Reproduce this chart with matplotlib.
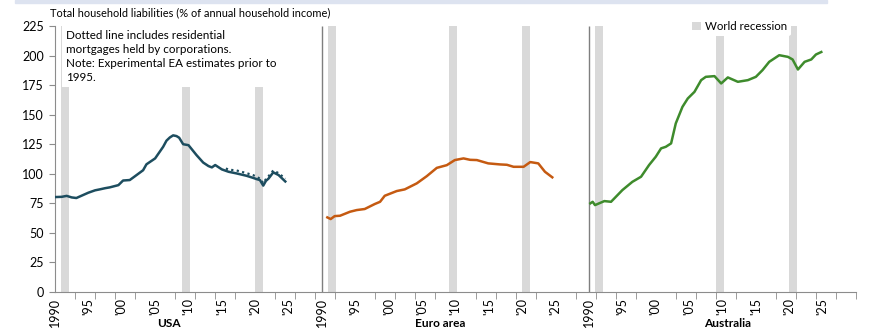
import matplotlib
matplotlib.use("Agg")
import matplotlib.pyplot as plt
import numpy as np

plt.rcParams['font.family'] = ['Lato', 'DejaVu Sans']

# household liabilities, % of annual household income
usa_years = [1990.0, 1991.0, 1991.75, 1992.5, 1993.2, 1994.0, 1995.0, 1996.0, 1996.7, 1997.5, 1998.2,
             1999.5, 2000.2, 2001.2, 2002.0, 2003.2, 2003.7, 2005.0, 2006.2, 2006.7, 2007.2, 2007.7,
             2008.2, 2008.6, 2009.2, 2010.0, 2011.2, 2012.2, 2013.0, 2013.5, 2014.0, 2015.0, 2016.0,
             2017.2, 2018.7, 2019.7, 2020.2, 2020.7, 2021.2, 2021.6, 2022.0, 2022.7, 2023.5, 2024.5]
usa_values = [80.3, 80.5, 81.3, 80.0, 79.5, 81.5, 84.0, 86.0, 86.8, 87.8, 88.5,
              90.4, 94.3, 94.7, 98.0, 103.0, 108.0, 113.0, 122.8, 128.0, 130.7, 132.5,
              131.9, 130.5, 125.0, 124.2, 115.8, 109.5, 106.5, 105.4, 107.4, 103.7, 101.7,
              100.3, 98.3, 96.5, 95.5, 94.7, 90.0, 94.0, 96.0, 101.2, 98.9, 93.5]
usa_wide_years = [2015.6, 2016.0, 2017.2, 2018.7, 2019.7, 2020.2, 2020.8, 2021.2, 2021.6,
                  2022.0, 2022.7, 2023.5, 2024.5]
usa_wide_values = [104.5, 103.5, 102.8, 100.5, 98.8, 97.5, 95.5, 92.0, 95.5,
                   98.0, 102.8, 100.5, 95.8]

euro_years = [1990.8, 1991.3, 1991.9, 1992.7, 1994.2, 1995.2, 1996.4, 1997.9, 1998.7, 1999.4,
              2001.2, 2002.4, 2004.2, 2005.7, 2007.2, 2008.7, 2009.9, 2011.2, 2012.2, 2013.2,
              2014.9, 2016.7, 2017.7, 2018.7, 2020.2, 2021.2, 2022.4, 2023.4, 2024.5]
euro_values = [63.1, 61.7, 64.2, 64.5, 67.9, 69.3, 70.2, 74.4, 76.3, 81.4,
               85.4, 86.8, 91.9, 98.0, 105.0, 107.3, 111.6, 113.0, 111.8, 111.6,
               108.8, 107.9, 107.6, 105.9, 105.9, 109.9, 108.8, 101.7, 97.0]

aus_years = [1990.2, 1990.55, 1990.9, 1992.3, 1993.3, 1993.8, 1995.0, 1996.5, 1997.8, 1999.0,
             2000.0, 2000.8, 2001.5, 2002.3, 2003.0, 2004.0, 2004.8, 2005.8, 2006.8, 2007.5,
             2008.8, 2009.8, 2010.8, 2012.3, 2013.8, 2015.0, 2016.0, 2017.0, 2018.5, 2019.8,
             2020.5, 2021.3, 2022.3, 2023.3, 2024.0, 2024.8]
aus_values = [75.0, 76.3, 73.5, 76.9, 76.3, 79.2, 86.2, 93.2, 97.5, 107.4,
              114.4, 121.5, 122.8, 125.7, 142.6, 156.6, 163.7, 169.3, 179.2, 182.0,
              182.6, 176.4, 181.5, 177.8, 179.2, 182.0, 187.7, 194.7, 200.3, 198.9,
              196.7, 188.2, 194.7, 196.7, 200.9, 203.0]

recession_starts = [1990.9, 2009.0, 2020.0]
recession_length = 1.2

panel_names = ['USA', 'Euro area', 'Australia']
tick_years = [1990, 1995, 2000, 2005, 2010, 2015, 2020, 2025]
tick_text = ['1990', "'95", "'00", "'05", "'10", "'15", "'20", "'25"]

PANEL = 40  # years of axis given to each economy
Y_TOP = 225

colors = ['#1d4d5f', '#c55a11', '#3e8b2c']
grey = '#8c8c8c'


def pos(panel, years):
    return panel * PANEL + np.asarray(years) - 1990


fig = plt.figure(figsize=(8.85, 3.31), dpi=100)
ax = fig.add_axes([55 / 885, 39 / 331, 801 / 885, 266 / 331])

# world recession shading, repeated in every panel
for p in range(3):
    ax.bar(pos(p, recession_starts), Y_TOP, width=recession_length, align='edge',
           color='#d9d9d9', zorder=1, label='World recession' if p == 0 else None)

ax.vlines([PANEL, 2 * PANEL], 0, Y_TOP, color='#7f7f7f', lw=1, zorder=2)

ax.plot(pos(0, usa_wide_years), usa_wide_values, color=colors[0], lw=1.6, ls=(0, (1, 1.5)), zorder=3)
ax.plot(pos(0, usa_years), usa_values, color=colors[0], lw=1.8, zorder=4)
ax.plot(pos(1, euro_years), euro_values, color=colors[1], lw=1.8, zorder=4)
ax.plot(pos(2, aus_years), aus_values, color=colors[2], lw=1.8, zorder=4)

ax.set_xlim(0, 3 * PANEL)
ax.set_ylim(0, Y_TOP)

ax.set_yticks(np.arange(0, 226, 25))
ax.tick_params(axis='y', length=4, color=grey, labelsize=9, pad=4)

major = [pos(p, y) for p in range(3) for y in tick_years]
ax.set_xticks(major)
ax.set_xticklabels(tick_text * 3, rotation=90, fontsize=9)
ax.set_xticks(np.arange(0, 3 * PANEL + 1, 3), minor=True)
ax.tick_params(axis='x', which='major', length=0, pad=4)
ax.tick_params(axis='x', which='minor', length=5, color=grey)

for side in ['top', 'right']:
    ax.spines[side].set_visible(False)
for side in ['left', 'bottom']:
    ax.spines[side].set_color(grey)
    ax.spines[side].set_linewidth(0.8)

for x, name in zip([17.1, 57.7, 100.7], panel_names):
    ax.text(x, -0.117, name, transform=ax.get_xaxis_transform(), ha='center', va='center',
            fontsize=8.6, fontweight='bold')

fig.text(50 / 885, 1 - 13 / 331, 'Total household liabilities (% of annual household income)',
         fontsize=7.9, va='center', ha='left')

ax.text(1.7, 222, 'Dotted line includes residential\nmortgages held by corporations.\n'
        'Note: Experimental EA estimates prior to\n1995.',
        fontsize=8.4, va='top', ha='left', linespacing=1.35, zorder=6,
        bbox=dict(facecolor='white', edgecolor='none', pad=3))

leg = ax.legend(loc='upper left', bbox_to_anchor=(634 / 801, 1.03), frameon=True,
                fontsize=8.3, handlelength=0.7, handleheight=0.7, handletextpad=0.4,
                borderpad=0.3, borderaxespad=0)
leg.get_frame().set_edgecolor('none')
leg.get_frame().set_facecolor('white')
leg.get_frame().set_alpha(1)
leg.set_zorder(6)

# thin band along the top edge
fig.patches.append(plt.Rectangle((15 / 885, 1 - 3 / 331), 812 / 885, 3 / 331,
                                 transform=fig.transFigure, color='#dde3f0', zorder=0))

fig.savefig('out.png', dpi=100)
